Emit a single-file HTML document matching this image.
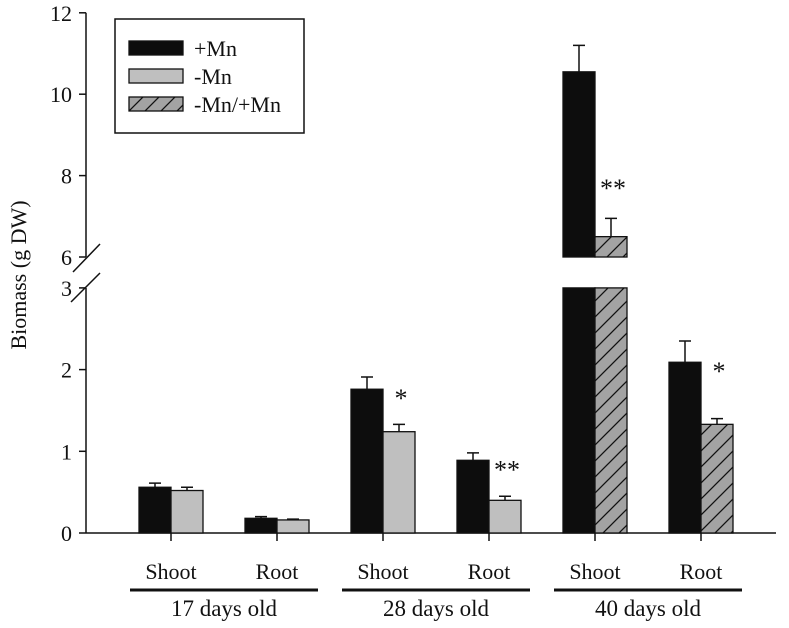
<!DOCTYPE html>
<html><head><meta charset="utf-8"><style>
html,body{margin:0;padding:0;background:#fff;}
svg text{font-family:"Liberation Serif",serif;fill:#111;}
</style></head><body>
<svg id="chart" width="789" height="623" viewBox="0 0 789 623" xmlns="http://www.w3.org/2000/svg">
<defs>
<pattern id="hatch" patternUnits="userSpaceOnUse" width="16" height="16">
<rect width="16" height="16" fill="#a3a3a3"/>
<path d="M-4,4 L4,-4 M0,16 L16,0 M12,20 L20,12" stroke="#111" stroke-width="1.3"/>
</pattern>
</defs>
<g id="plot"></g>
</svg>
<script>
const categories = ["Shoot","Root","Shoot","Root","Shoot","Root"];
const groups = ["17 days old","28 days old","40 days old"];
const plusMn = [0.56, 0.18, 1.76, 0.89, 10.55, 2.09];
const plusMnErr = [0.05, 0.02, 0.15, 0.09, 0.65, 0.26];
const otherVals = [0.52, 0.16, 1.24, 0.40, 6.5, 1.33];
const otherErr = [0.04, 0.01, 0.09, 0.05, 0.45, 0.07];
const otherType = ["minus","minus","minus","minus","hatch","hatch"];
const stars = ["", "", "*", "**", "**", "*"];
const lowerTicks = [0,1,2,3];
const upperTicks = [6,8,10,12];

const NS="http://www.w3.org/2000/svg";
const g=document.getElementById('plot');
function el(t,a,p){const e=document.createElementNS(NS,t);for(const k in a)e.setAttribute(k,a[k]);(p||g).appendChild(e);return e;}
const AX=86, Y0=533, LPU=81.7, Y6=257, UPU=40.7;
function yScale(v){ return v<=3 ? Y0-v*LPU : Y6-(v-6)*UPU; }
function xCenter(i){ return 171 + i*106; }
const BW=32;

let e=el('line',{x1:AX,y1:Y0,x2:776,y2:Y0,stroke:'#111','stroke-width':1.5});

e=el('line',{x1:AX,y1:Y0,x2:AX,y2:yScale(3),stroke:'#111','stroke-width':1.5});

e=el('line',{x1:AX,y1:yScale(6),x2:AX,y2:yScale(12),stroke:'#111','stroke-width':1.5});

e=el('line',{x1:73,y1:272,x2:100,y2:244,stroke:'#111','stroke-width':1.5});

e=el('line',{x1:71,y1:302,x2:100,y2:273,stroke:'#111','stroke-width':1.5});


lowerTicks.concat(upperTicks).forEach(t=>{
  const y=yScale(t);
  let tk=el('line',{x1:AX-7,y1:y,x2:AX,y2:y,stroke:'#111','stroke-width':1.5});
  
  let lb=el('text',{x:AX-14,y:y+8,'text-anchor':'end','font-size':22});
  lb.textContent=t;
  
});
e=el('text',{x:0,y:0,'text-anchor':'middle','font-size':22,transform:'translate(26,275) rotate(-90)'});
e.textContent='Biomass (g DW)';


function bar(x,v,fill,name){
  if(v>3){
    let r=el('rect',{x:x,y:yScale(3),width:BW,height:Y0-yScale(3),fill:fill,stroke:'#111','stroke-width':1.3});
    
    r=el('rect',{x:x,y:yScale(v),width:BW,height:yScale(6)-yScale(v),fill:fill,stroke:'#111','stroke-width':1.3});
    
  } else {
    let r=el('rect',{x:x,y:yScale(v),width:BW,height:Y0-yScale(v),fill:fill,stroke:'#111','stroke-width':1.3});
    
  }
}
function err(cx,v,e){
  const y1=yScale(v),y2=yScale(v+e);
  let l=el('path',{d:`M${cx},${y1} V${y2} M${cx-6},${y2} H${cx+6}`,stroke:'#111','stroke-width':1.5,fill:'none'});
  
}
categories.forEach((c,i)=>{
  const cx=xCenter(i);
  bar(cx-BW,plusMn[i],'#0d0d0d','bar-plus-mn-'+i);
  err(cx-BW/2,plusMn[i],plusMnErr[i]);
  const f=otherType[i]==='hatch'?'url(#hatch)':'#bfbfbf';
  bar(cx,otherVals[i],f,'bar-'+otherType[i]+'-'+i);
  err(cx+BW/2,otherVals[i],otherErr[i]);
  if(stars[i]){
    let s=el('text',{x:cx+BW/2+2,y:yScale(plusMn[i])+(i===4?125:18),'text-anchor':'middle','font-size':26});
    s.textContent=stars[i];
    
  }
  let tk=el('line',{x1:cx,y1:Y0,x2:cx,y2:Y0+8,stroke:'#111','stroke-width':1.5});
  
  let lb=el('text',{x:cx,y:579,'text-anchor':'middle','font-size':22});
  lb.textContent=c;
  
});
groups.forEach((gname,j)=>{
  const mid=(xCenter(2*j)+xCenter(2*j+1))/2;
  let l=el('line',{x1:mid-94,y1:590,x2:mid+94,y2:590,stroke:'#111','stroke-width':3});
  
  let t=el('text',{x:mid,y:616,'text-anchor':'middle','font-size':23});
  t.textContent=gname;
  
});

const lg=el('g',{});

el('rect',{x:115,y:19,width:189,height:114,fill:'#fff',stroke:'#111','stroke-width':1.5},lg);
const legLabels=['+Mn','-Mn','-Mn/+Mn'], legFills=['#0d0d0d','#bfbfbf','url(#hatch)'], legY=[41,69,97];
legLabels.forEach((t,i)=>{
  let r=el('rect',{x:129,y:legY[i],width:54,height:14,fill:legFills[i],stroke:'#111','stroke-width':1.3},lg);
  
  let tx=el('text',{x:194,y:legY[i]+15,'font-size':22},lg);
  tx.textContent=t;
  
});
</script>
</body></html>
